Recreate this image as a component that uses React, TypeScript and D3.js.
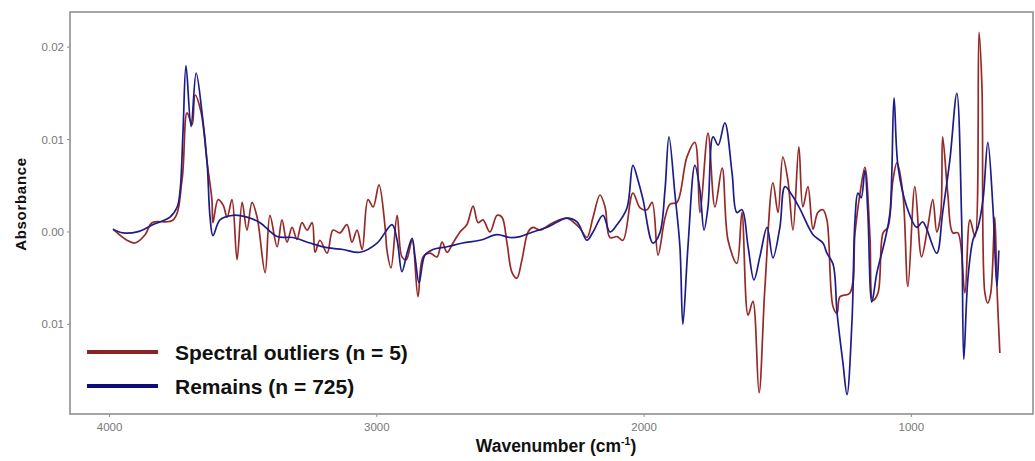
import React from "react";
import * as d3 from "d3";

// Mean spectra: wavenumber (cm-1) and absorbance
const outlierWavenumbers = [
  3987, 3935, 3905, 3867, 3841, 3762, 3729, 3710, 3691, 3680, 3658, 3635, 3617, 3613, 3594, 3575,
  3560, 3542, 3523, 3504, 3486, 3467, 3448, 3418, 3400, 3373, 3355, 3336, 3317, 3299, 3280, 3261,
  3242, 3231, 3213, 3186, 3164, 3138, 3112, 3093, 3074, 3055, 3033, 3014, 2992, 2969, 2962, 2947,
  2924, 2906, 2890, 2868, 2846, 2827, 2801, 2775, 2756, 2737, 2715, 2689, 2663, 2640, 2621, 2603,
  2577, 2550, 2532, 2513, 2494, 2476, 2457, 2434, 2416, 2390, 2341, 2289, 2266, 2240, 2214, 2191,
  2165, 2146, 2128, 2101, 2079, 2042, 2015, 1989, 1970, 1948, 1922, 1903, 1877, 1840, 1810, 1791,
  1761, 1735, 1708, 1686, 1653, 1634, 1611, 1593, 1570, 1548, 1518, 1499, 1481, 1462, 1443, 1421,
  1406, 1387, 1368, 1350, 1331, 1316, 1293, 1278, 1267, 1230, 1211, 1192, 1174, 1155, 1144, 1125,
  1106, 1088, 1069, 1054, 1032, 1013, 987, 962, 939, 920, 905, 890, 883, 864, 845, 826, 800, 781,
  762, 747, 736, 725, 714, 703, 688, 680, 669,
];
const outlierAbsorbance = [
  0.0003, -0.0009, -0.0012, -0.0003, 0.001, 0.0013, 0.0056, 0.0129, 0.0116, 0.0148, 0.013, 0.0075,
  0.0035, 0.001, 0.0035, 0.0029, 0.0016, 0.0035, -0.003, 0.0032, 0.0002, 0.0032, 0.0016, -0.0044,
  0.0018, -0.0016, 0.0013, -0.0011, 0.0005, -0.0008, 0.001, 0.0002, 0.001, -0.0022, -0.0009,
  -0.0023, 0.0002, -0.0001, 0.0008, -0.0011, 0.0002, -0.0019, 0.0035, 0.0027, 0.0051, 0.0005,
  -0.002, -0.0039, 0.0018, -0.0027, -0.003, -0.0009, -0.007, -0.0027, -0.0023, -0.0027, -0.0011,
  -0.0022, -0.0012, 0.0, 0.0008, 0.0028, 0.001, 0.0013, 0.0, 0.0018, 0.0016, -0.0012, -0.0044,
  -0.005, -0.003, 0.0, 0.0005, 0.0002, 0.001, 0.0015, 0.0011, 0.0004, -0.0006, 0.0016, 0.004,
  0.0027, -0.0006, -0.0005, -0.0009, 0.0042, 0.0026, 0.0024, 0.0032, -0.0025, 0.0015, 0.003,
  0.0032, 0.0081, 0.0097, 0.0021, 0.0107, 0.0027, 0.0069, -0.0009, -0.0034, 0.0021, -0.009,
  -0.0075, -0.0174, -0.006, 0.0053, 0.0021, 0.0081, 0.0056, 0.0002, 0.0092, 0.0027, 0.0049, 0.0003,
  0.0021, 0.0024, 0.0013, -0.0081, -0.0088, -0.007, -0.0066, -0.0001, 0.0042, 0.007, -0.0005,
  -0.0074, -0.0066, -0.0001, 0.0005, 0.0056, 0.0075, 0.0042, -0.0059, 0.0049, -0.0027, 0.0005,
  0.0035, 0.0, 0.002, 0.0103, 0.0042, -0.0001, -0.0001, -0.0066, 0.0013, -0.0005, 0.0216, 0.0157,
  -0.0066, -0.0077, -0.0066, 0.0016, -0.0059, -0.0131,
];

const remainsWavenumbers = [
  3987, 3950, 3897, 3837, 3774, 3747, 3736, 3725, 3714, 3695, 3676, 3654, 3635, 3624, 3613, 3587,
  3538, 3486, 3437, 3373, 3314, 3250, 3186, 3127, 3063, 2999, 2943, 2924, 2906, 2887, 2868, 2857,
  2842, 2820, 2790, 2737, 2678, 2614, 2550, 2502, 2464, 2416, 2363, 2289, 2251, 2214, 2191, 2154,
  2128, 2101, 2064, 2042, 2023, 2004, 1967, 1941, 1922, 1907, 1885, 1866, 1855, 1836, 1810, 1791,
  1776, 1761, 1742, 1723, 1698, 1671, 1653, 1634, 1611, 1589, 1567, 1540, 1518, 1492, 1473, 1447,
  1417, 1368, 1331, 1316, 1293, 1278, 1256, 1241, 1222, 1211, 1200, 1188, 1174, 1163, 1148, 1129,
  1099, 1080, 1065, 1050, 1017, 980, 958, 945, 905, 883, 856, 830, 812, 804, 789, 770, 751, 732,
  714, 695, 680, 673,
];
const remainsAbsorbance = [
  0.0003, -0.0001, 0.0, 0.0008, 0.0016, 0.0027, 0.0045, 0.011, 0.018, 0.0114, 0.0172, 0.0129,
  0.0075, 0.0016, -0.0004, 0.0013, 0.0018, 0.0016, 0.001, -0.0005, -0.0006, -0.0012, -0.0017,
  -0.0019, -0.0022, -0.0012, 0.0008, -0.0009, -0.0043, -0.0023, -0.0007, -0.0027, -0.0055, -0.0025,
  -0.0019, -0.0016, -0.0012, -0.0009, -0.0003, -0.0006, -0.0005, 0.0, 0.0005, 0.0015, 0.0011,
  -0.0009, 0.0, 0.0018, 0.0, 0.0008, 0.0026, 0.0072, 0.0056, 0.0035, -0.0012, -0.0001, 0.0045,
  0.0103, 0.0042, -0.0016, -0.01, -0.0016, 0.0072, 0.0045, 0.0002, 0.0027, 0.0103, 0.0094, 0.0118,
  0.0064, 0.0021, 0.0024, -0.0016, -0.0052, -0.0027, 0.0005, -0.0028, 0.0005, 0.0049, 0.004,
  0.0025, -0.0003, -0.0012, -0.0023, -0.0035, -0.0088, -0.0142, -0.0176, -0.0095, 0.0013, 0.0042,
  0.0037, 0.0067, 0.0021, -0.0076, -0.0044, -0.0009, 0.0021, 0.0145, 0.0071, 0.0027, 0.0005, 0.0011,
  0.0005, -0.0023, 0.0021, 0.0078, 0.015, 0.0013, -0.0138, -0.0052, -0.0009, 0.0005, 0.0035,
  0.0097, 0.0027, -0.0059, -0.002,
];

const seriesNames = ["Spectral outliers (n = 5)", "Remains (n = 725)"];
const seriesColors = ["#962a28", "#1d1d8a"];
const legendColors = ["#8b2323", "#0d0d78"];

const xTicks = [4000, 3000, 2000, 1000];
const yTicks = [0.02, 0.01, 0, -0.01];
const yTickLabels = ["0.02", "0.01", "0.00", "0.01"];

const W = 1035;
const H = 461;
const panel = { left: 70, right: 1033, top: 12, bottom: 414 };

export default function App() {
  const x = d3.scaleLinear().domain([4148, 545]).range([panel.left, panel.right]);
  const y = d3.scaleLinear().domain([-0.0197, 0.0238]).range([panel.bottom, panel.top]);

  const line = d3
    .line<[number, number]>()
    .x((d) => x(d[0]))
    .y((d) => y(d[1]))
    .curve(d3.curveCatmullRom.alpha(0.5));

  const outliers = outlierWavenumbers.map((w, i) => [w, outlierAbsorbance[i]] as [number, number]);
  const remains = remainsWavenumbers.map((w, i) => [w, remainsAbsorbance[i]] as [number, number]);
  const series = [outliers, remains];

  const axisFont = "'Liberation Sans', Arial, sans-serif";

  return (
    <svg
      width={W}
      height={H}
      style={{ position: "absolute", left: 0, top: 0, background: "#fff" }}
      fontFamily={axisFont}
    >
      <defs>
        <clipPath id="panel-clip">
          <rect
            x={panel.left}
            y={panel.top}
            width={panel.right - panel.left}
            height={panel.bottom - panel.top}
          />
        </clipPath>
      </defs>

      <g clipPath="url(#panel-clip)">
        {series.map((s, i) => (
          <path
            key={i}
            d={line(s) ?? ""}
            fill="none"
            stroke={seriesColors[i]}
            strokeWidth={1.7}
            strokeLinejoin="round"
          />
        ))}
      </g>

      <rect
        x={panel.left}
        y={panel.top}
        width={panel.right - panel.left}
        height={panel.bottom - panel.top}
        fill="none"
        stroke="#8f8f8f"
        strokeWidth={1.6}
      />

      {/* y axis */}
      {yTicks.map((t, i) => (
        <g key={t}>
          <line x1={panel.left - 3} x2={panel.left} y1={y(t)} y2={y(t)} stroke="#8f8f8f" strokeWidth={1} />
          <text x={panel.left - 6} y={y(t)} dy="0.35em" textAnchor="end" fontSize={11.5} fill="#777">
            {yTickLabels[i]}
          </text>
        </g>
      ))}

      {/* x axis */}
      {xTicks.map((t) => (
        <g key={t}>
          <line x1={x(t)} x2={x(t)} y1={panel.bottom} y2={panel.bottom + 3} stroke="#8f8f8f" strokeWidth={1} />
          <text x={x(t)} y={panel.bottom + 17} textAnchor="middle" fontSize={11.5} fill="#777">
            {t}
          </text>
        </g>
      ))}

      <text
        transform={`translate(26, 204) rotate(-90)`}
        textAnchor="middle"
        fontSize={15}
        fontWeight="bold"
        letterSpacing={0.7}
        fill="#111"
      >
        Absorbance
      </text>

      <text x={556} y={452} textAnchor="middle" fontSize={17.5} fontWeight="bold" fill="#111">
        Wavenumber (cm
        <tspan fontSize={10.5} dy={-7}>
          -1
        </tspan>
        <tspan dy={7}>)</tspan>
      </text>

      {/* legend */}
      {seriesNames.map((name, i) => (
        <g key={name} transform={`translate(0, ${352 + i * 34})`}>
          <line x1={87} x2={158} y1={0} y2={0} stroke={legendColors[i]} strokeWidth={4} />
          <text x={175} y={0} dy="0.36em" fontSize={21} fontWeight="bold" fill="#111">
            {name}
          </text>
        </g>
      ))}
    </svg>
  );
}
